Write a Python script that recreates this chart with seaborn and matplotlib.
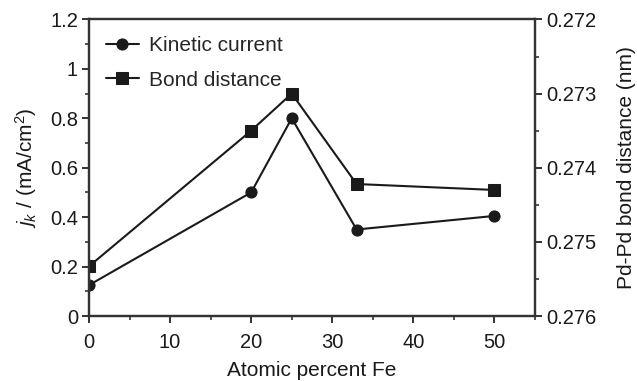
import pandas as pd
import seaborn as sns
import matplotlib.pyplot as plt
from matplotlib.ticker import MultipleLocator

# data
fe_percent = [0, 20, 25, 33, 50]
kinetic_current = [0.125, 0.50, 0.80, 0.35, 0.405]
bond_distance = [0.27533, 0.2735, 0.2730, 0.27422, 0.2743]

sns.set_theme(style="ticks")
plt.rcParams['font.family'] = ['Liberation Sans', 'DejaVu Sans']
plt.rcParams['mathtext.fontset'] = 'custom'
plt.rcParams['mathtext.it'] = 'Liberation Sans:italic'
plt.rcParams['mathtext.rm'] = 'Liberation Sans'

df = pd.DataFrame({'fe': fe_percent, 'jk': kinetic_current, 'd': bond_distance})
ink = '#1a1a1a'
fs = 15

fig = plt.figure(figsize=(6.37, 3.81), dpi=100)
ax = fig.add_axes([0.1397, 0.1706, 0.7002, 0.7784])
ax2 = ax.twinx()

sns.lineplot(data=df, x='fe', y='jk', ax=ax, color=ink, marker='o', markersize=8,
             linewidth=1.5, markeredgecolor=ink, label='Kinetic current', legend=False)
sns.lineplot(data=df, x='fe', y='d', ax=ax2, color=ink, marker='s', markersize=8.5,
             linewidth=1.5, markeredgecolor=ink, label='Bond distance', legend=False)

ax.set_xlim(0, 55)
ax.set_ylim(0, 1.2)
ax2.set_ylim(0.276, 0.272)

ax.xaxis.set_major_locator(MultipleLocator(10))
ax.xaxis.set_minor_locator(MultipleLocator(5))
ax.yaxis.set_minor_locator(MultipleLocator(0.1))
ax2.yaxis.set_minor_locator(MultipleLocator(0.0005))

ax.set_yticks([0, 0.2, 0.4, 0.6, 0.8, 1.0, 1.2])
ax.set_yticklabels(['0', '0.2', '0.4', '0.6', '0.8', '1', '1.2'])
ax2.set_yticks([0.272, 0.273, 0.274, 0.275, 0.276])
ax2.set_yticklabels(['0.272', '0.273', '0.274', '0.275', '0.276'])

for a in (ax, ax2):
    for s in a.spines.values():
        s.set_linewidth(1.6)
        s.set_color('#333333')
    a.tick_params(which='major', length=5, width=1.4, labelsize=fs - 0.5, pad=3,
                  color='#333333', labelcolor=ink)
    a.tick_params(which='minor', length=3, width=1.2, color='#333333')
    a.grid(False)
ax.tick_params(axis='x', which='major', pad=7)

ax.set_xlabel('Atomic percent Fe', fontsize=fs, color=ink, labelpad=7)
ax.set_ylabel(r'$j_k$ / (mA/cm$^2$)', fontsize=fs, color=ink, labelpad=8)
ax2.set_ylabel('Pd-Pd bond distance (nm)', fontsize=fs, color=ink, labelpad=15)

h1, l1 = ax.get_legend_handles_labels()
h2, l2 = ax2.get_legend_handles_labels()
ax.legend(h1 + h2, l1 + l2, loc='upper left', frameon=False, fontsize=fs,
          handlelength=1.6, handletextpad=0.5, labelspacing=0.75,
          borderaxespad=0.4, bbox_to_anchor=(0.0, 1.0))

fig.savefig('out.png', dpi=100)
